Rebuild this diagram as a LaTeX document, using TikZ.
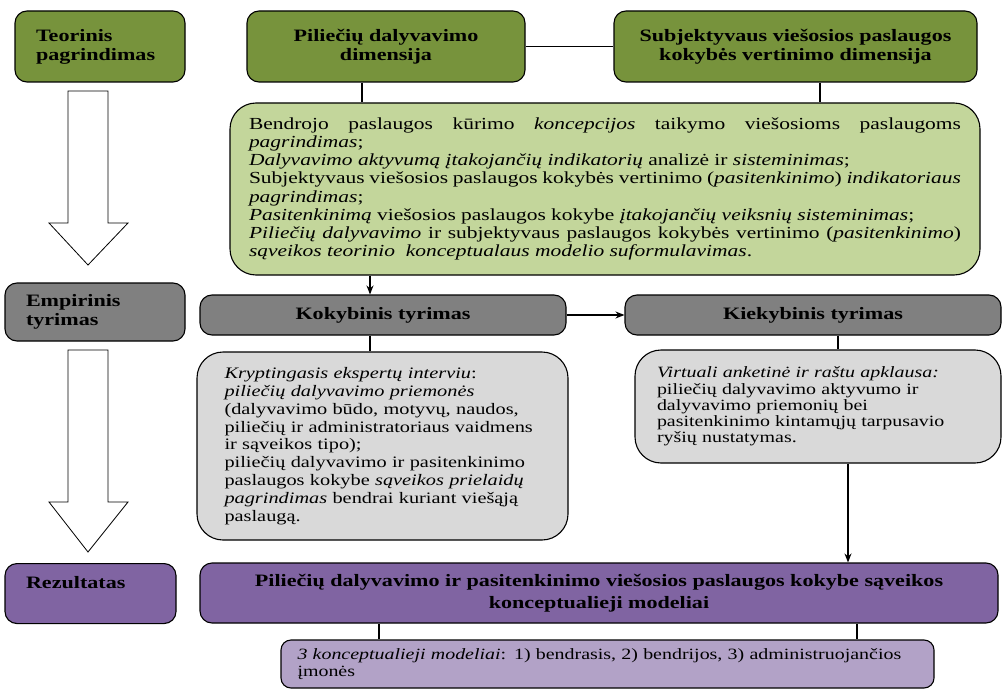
\documentclass[tikz,border=0pt]{standalone}
\usepackage{fontspec}
\setmainfont{Liberation Serif}[FakeStretch=1.27]
\usepackage{xcolor}
\usetikzlibrary{arrows.meta}

\definecolor{teoGreen}{HTML}{77933C}
\definecolor{teoLight}{HTML}{C3D69B}
\definecolor{empGray}{HTML}{808080}
\definecolor{empLight}{HTML}{D9D9D9}
\definecolor{rezPurple}{HTML}{8064A2}
\definecolor{rezLight}{HTML}{B2A2C7}

\tikzset{
  box/.style={draw, line width=1.1pt, rounded corners=12pt, inner sep=0pt},
  head/.style={box, font=\fontsize{17.4}{19}\selectfont\bfseries, align=center},
  info/.style={box, rounded corners=26pt, align=left},
  link/.style={line width=1.1pt},
  bigarrow/.style={draw, line width=0.8pt, fill=white}
}

\begin{document}
\begin{tikzpicture}[x=1pt, y=-1pt, >={Stealth[length=9pt,width=7pt]}]
    \useasboundingbox (0,0) rectangle (1003,690);

    % stage labels on the left
    \node[head, fill=teoGreen, minimum width=170, minimum height=71, text width=128, align=left] (teo) at (100,46.5) {Teorinis\\pagrindimas};
    \node[head, fill=empGray, minimum width=180, minimum height=58, text width=138, align=left] (emp) at (95,312) {Empirinis\\tyrimas};
    \node[head, fill=rezPurple, minimum width=171, text width=129, align=left, anchor=north,
          text height=19, text depth=29, inner ysep=6] (rezlbl) at (90.5,563) {Rezultatas};

    % big arrows between stages
    \draw[bigarrow] (68,91) -- (108,91) -- (108,223) -- (128,223) -- (88,265) -- (49,223) -- (68,223) -- cycle;
    \draw[bigarrow] (68,350) -- (108,350) -- (108,502) -- (128,502) -- (88,552) -- (49,502) -- (68,502) -- cycle;

    % theory
    \node[head, fill=teoGreen, minimum width=278, minimum height=71] (pil) at (386,46.5) {Piliečių dalyvavimo\\dimensija};
    \node[head, fill=teoGreen, minimum width=363, minimum height=71] (sub) at (795.5,46.5) {Subjektyvaus viešosios paslaugos\\kokybės vertinimo dimensija};
    \node[info, fill=teoLight, minimum width=750, minimum height=172, text width=712, align=justify,
          font=\fontsize{16.9}{18.2}\selectfont] (theory) at (605,189) {%
        Bendrojo paslaugos kūrimo \textit{koncepcijos} taikymo viešosioms paslaugoms\linebreak \textit{pagrindimas};\\
        \textit{Dalyvavimo aktyvumą įtakojančių indikatorių} analizė ir \textit{sisteminimas};\\
        Subjektyvaus viešosios paslaugos kokybės vertinimo (\textit{pasitenkinimo}) \textit{indikatoriaus}\linebreak \textit{pagrindimas};\\
        \textit{Pasitenkinimą} viešosios paslaugos kokybe \textit{įtakojančių veiksnių sisteminimas};\\
        \textit{Piliečių dalyvavimo} ir subjektyvaus paslaugos kokybės vertinimo (\textit{pasitenkinimo})\linebreak \textit{sąveikos teorinio\ \ konceptualaus modelio suformulavimas}.};

    % empirical research
    \node[head, fill=empGray, minimum width=366, minimum height=40] (kok) at (383,315) {Kokybinis tyrimas};
    \node[head, fill=empGray, minimum width=376, minimum height=40] (kiek) at (813,315) {Kiekybinis tyrimas};
    \node[info, fill=empLight, minimum width=371, minimum height=188, text width=316,
          font=\fontsize{16}{17.8}\selectfont] (kokinfo) at (382.5,446) {%
        \textit{Kryptingasis ekspertų interviu}:\\
        \textit{piliečių dalyvavimo priemonės}\\
        (dalyvavimo būdo, motyvų, naudos,\\
        piliečių ir administratoriaus vaidmens\\
        ir sąveikos tipo);\\
        piliečių dalyvavimo ir pasitenkinimo\\
        paslaugos kokybe \textit{sąveikos prielaidų}\\
        \textit{pagrindimas} bendrai kuriant viešąją\\
        paslaugą.};
    \node[info, fill=empLight, minimum width=366, minimum height=113, text width=322,
          font=\fontsize{15.7}{16.2}\selectfont] (kiekinfo) at (818,406.5) {%
        \textit{Virtuali anketinė ir raštu apklausa:}\\
        piliečių dalyvavimo aktyvumo ir\\
        dalyvavimo priemonių bei\\
        pasitenkinimo kintamųjų tarpusavio\\
        ryšių nustatymas.};

    % result
    \node[head, fill=rezPurple, minimum width=798, minimum height=60, font=\fontsize{17.4}{22}\selectfont\bfseries] (rez) at (599,593) {Piliečių dalyvavimo ir pasitenkinimo viešosios paslaugos kokybe sąveikos\\konceptualieji modeliai};
    \node[box, rounded corners=10pt, fill=rezLight, minimum width=653, minimum height=48, text width=620, align=left,
          font=\fontsize{15.7}{17}\selectfont] (models) at (607.5,664) {%
        \textit{3 konceptualieji modeliai}: 1) bendrasis, 2) bendrijos, 3) administruojančios\\
        įmonės};

    % connectors
    \coordinate (xa) at (362,0);
    \coordinate (xb) at (820,0);
    \coordinate (xc) at (370,0);
    \coordinate (xd) at (838,0);
    \coordinate (xe) at (848,0);
    \coordinate (xf) at (379,0);
    \coordinate (xg) at (857,0);
    \draw[link] (pil.east) -- (sub.west);
    \draw[link] (pil.south -| xa) -- (theory.north -| xa);
    \draw[link] (sub.south -| xb) -- (theory.north -| xb);
    \draw[link,->] (theory.south -| xc) -- (kok.north -| xc);
    \draw[link,->] (kok.east) -- (kiek.west);
    \draw[link] (kok.south -| xc) -- (kokinfo.north -| xc);
    \draw[link] (kiek.south -| xd) -- (kiekinfo.north -| xd);
    \draw[link,->] (kiekinfo.south -| xe) -- (rez.north -| xe);
    \draw[link] (rez.south -| xf) -- (models.north -| xf);
    \draw[link] (rez.south -| xg) -- (models.north -| xg);
\end{tikzpicture}
\end{document}
